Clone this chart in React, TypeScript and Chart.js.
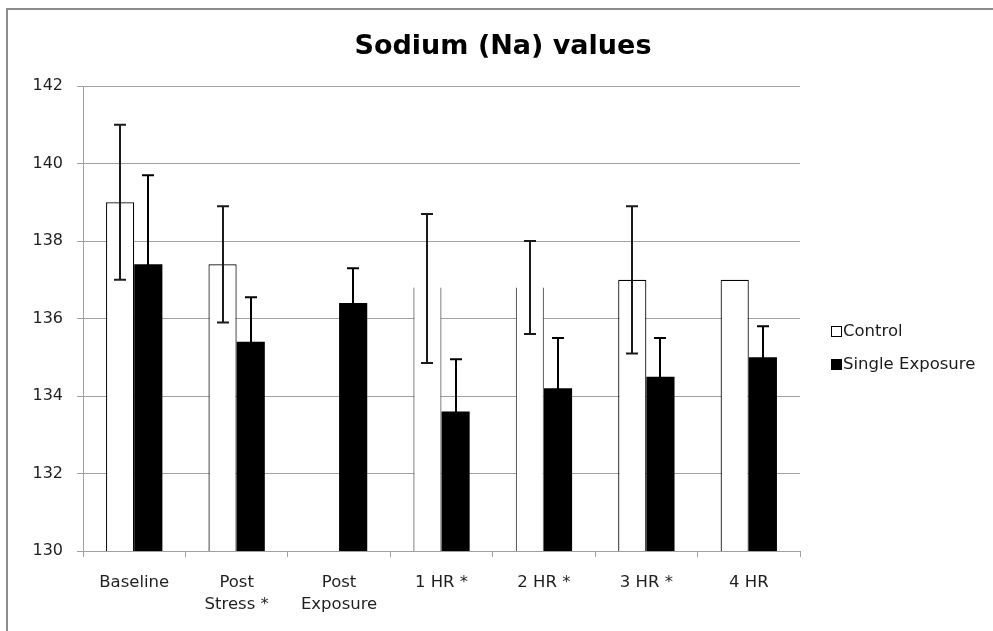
import React, { useEffect, useRef } from "react";
import { Chart, registerables } from "chart.js";

Chart.register(...registerables);

// Sodium measurements per time point (mmol/L)
const categories: (string | string[])[] = [
  "Baseline",
  ["Post", "Stress *"],
  ["Post", "Exposure"],
  "1 HR *",
  "2 HR *",
  "3 HR *",
  "4 HR",
];

const controlValues: (number | null)[] = [139.0, 137.4, null, 136.8, 136.8, 137.0, 137.0];
const controlHigh: (number | null)[] = [141.0, 138.9, null, 138.7, 138.0, 138.9, null];
const controlLow: (number | null)[] = [137.0, 135.9, null, 134.85, 135.6, 135.1, null];

const singleValues: number[] = [137.4, 135.4, 136.4, 133.6, 134.2, 134.5, 135.0];
const singleHigh: number[] = [139.7, 136.55, 137.3, 134.95, 135.5, 135.5, 135.8];
const singleLow: number[] = [135.1, 134.25, 135.5, 132.25, 132.9, 133.5, 134.2];

// Control bars whose top edge is not drawn
const openTopIndexes: number[] = [3, 4];

const yTicks: number[] = [130, 132, 134, 136, 138, 140, 142];

const FONT = "'DejaVu Sans', sans-serif";
const GRID = "#a0a0a0";

const errorBarsPlugin = {
  id: "errorBars",
  afterDatasetsDraw(chart: any) {
    const { ctx } = chart;
    const y = chart.scales.y;
    const sets = [
      { hi: controlHigh, lo: controlLow, color: "#1a1a1a" },
      { hi: singleHigh, lo: singleLow, color: "#000000" },
    ];
    ctx.save();
    sets.forEach((s, di) => {
      const meta = chart.getDatasetMeta(di);
      meta.data.forEach((bar: any, i: number) => {
        const hi = s.hi[i];
        const lo = s.lo[i];
        if (hi == null || lo == null) return;
        const x = Math.round(bar.x);
        const yh = y.getPixelForValue(hi);
        const yl = y.getPixelForValue(lo);
        ctx.strokeStyle = s.color;
        ctx.lineWidth = 2;
        ctx.beginPath();
        ctx.moveTo(x, yh);
        ctx.lineTo(x, yl);
        ctx.moveTo(x - 6, yh);
        ctx.lineTo(x + 6, yh);
        ctx.moveTo(x - 6, yl);
        ctx.lineTo(x + 6, yl);
        ctx.stroke();
      });
    });
    ctx.restore();
  },
};

const decorPlugin = {
  id: "decor",
  beforeDraw(chart: any) {
    const { ctx } = chart;
    ctx.save();
    ctx.fillStyle = "#ffffff";
    ctx.fillRect(0, 0, chart.width, chart.height);
    // outer frame
    ctx.strokeStyle = "#8c8c8c";
    ctx.lineWidth = 2;
    ctx.beginPath();
    ctx.moveTo(7, chart.height);
    ctx.lineTo(7, 9);
    ctx.lineTo(chart.width, 9);
    ctx.stroke();
    ctx.restore();
  },
  afterDraw(chart: any) {
    const { ctx } = chart;
    ctx.save();
    // title
    ctx.fillStyle = "#000";
    ctx.font = `bold 27px ${FONT}`;
    ctx.textAlign = "center";
    ctx.textBaseline = "middle";
    ctx.fillText("Sodium (Na) values", 503, 47);

    // legend
    ctx.font = `16.5px ${FONT}`;
    ctx.textAlign = "left";
    const items = chart.data.datasets.map((d: any) => ({
      label: d.label,
      fill: d.legendFill,
    }));
    const rows = [332, 365];
    items.forEach((it: any, k: number) => {
      const cy = rows[k];
      ctx.fillStyle = it.fill;
      ctx.fillRect(831.5, cy - 5.5, 10, 10);
      ctx.strokeStyle = "#000";
      ctx.lineWidth = 1;
      ctx.strokeRect(831.5, cy - 5.5, 10, 10);
      ctx.fillStyle = "#1a1a1a";
      ctx.fillText(it.label, 843, cy);
    });
    ctx.restore();
  },
};

export default function App() {
  const ref = useRef<HTMLCanvasElement | null>(null);

  useEffect(() => {
    if (!ref.current) return;
    const chart = new Chart(ref.current, {
      type: "bar",
      data: {
        labels: categories,
        datasets: [
          {
            label: "Control",
            data: controlValues,
            backgroundColor: "#ffffff",
            borderColor: (c: any) => (openTopIndexes.includes(c.dataIndex) ? "#555555" : "#000000"),
            borderWidth: (c: any) =>
              openTopIndexes.includes(c.dataIndex)
                ? { top: 0, left: 1.2, right: 1.2, bottom: 0 }
                : 1.2,
            borderSkipped: "start",
            legendFill: "#ffffff",
          } as any,
          {
            label: "Single Exposure",
            data: singleValues,
            backgroundColor: "#000000",
            borderColor: "#000000",
            borderWidth: 0,
            legendFill: "#000000",
          } as any,
        ],
      },
      options: {
        responsive: false,
        animation: false,
        layout: { padding: { top: 86, right: 193, bottom: 0, left: 0 } },
        datasets: {
          bar: { categoryPercentage: 0.55, barPercentage: 1 },
        },
        plugins: {
          legend: { display: false },
          title: { display: false },
          tooltip: { enabled: false },
        },
        scales: {
          x: {
            grid: {
              drawOnChartArea: false,
              drawTicks: true,
              tickLength: 6,
              color: GRID,
              offset: true,
            },
            border: { color: GRID },
            ticks: {
              color: "#1f1f1f",
              font: { family: FONT, size: 16.5, lineHeight: 1.38 },
              padding: 14,
              maxRotation: 0,
              autoSkip: false,
            },
            afterFit: (s: any) => {
              s.height = 80;
            },
          },
          y: {
            min: 130,
            max: 142,
            afterBuildTicks: (s: any) => {
              s.ticks = yTicks.map((v) => ({ value: v }));
            },
            grid: { color: GRID, tickLength: 6 },
            border: { color: GRID },
            ticks: {
              color: "#1f1f1f",
              font: { family: FONT, size: 16 },
              padding: 14,
            },
            afterFit: (s: any) => {
              s.width = 83;
            },
          },
        },
      },
      plugins: [decorPlugin, errorBarsPlugin],
    });
    return () => chart.destroy();
  }, []);

  return (
    <div style={{ position: "absolute", left: 0, top: 0, width: 993, height: 631 }}>
      <canvas ref={ref} width={993} height={631} style={{ display: "block" }} />
    </div>
  );
}
